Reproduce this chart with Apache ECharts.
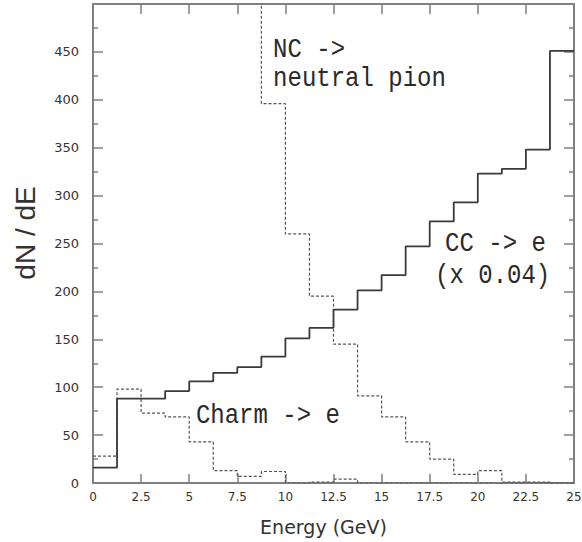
<!DOCTYPE html>
<html>
<head>
<meta charset="utf-8">
<script src="https://cdn.jsdelivr.net/npm/echarts@6/dist/echarts.min.js"></script>
<style>
html,body{margin:0;padding:0;background:#fff;}
#main{width:582px;height:542px;}
</style>
</head>
<body>
<div id="main"></div>
<script>
// Bin edges (GeV)
const binEdges = [0, 1.25, 2.5, 3.75, 5, 6.25, 7.5, 8.75, 10, 11.25, 12.5, 13.75, 15, 16.25, 17.5, 18.75, 20, 21.25, 22.5, 23.75, 25];
// CC -> e (x 0.04)
const ccValues = [16, 88, 88, 96, 106, 115, 121, 132, 151, 162, 181, 201, 217, 247, 273, 293, 323, 328, 348, 451];
// Charm -> e
const charmValues = [28, 98, 73, 69, 43, 13, 7, 12, 0, 1, 4, 0, 0, 0, 0, 0, 0, 0, 0, 0];
// NC -> neutral pion (bins below 8.75 GeV are off scale; null = not visible)
const ncValues = [null, null, null, null, null, null, 520, 396, 260, 195, 145, 91, 69, 43, 25, 9, 13, 1, 1, 0];
// Tick settings
const xTickStep = 2.5;
const yTickStep = 50;
// Annotations (data coordinates of the text anchor)
const annotations = [
  { text: 'NC ->', x: 9.36, y: 453 },
  { text: 'neutral pion', x: 9.36, y: 422 },
  { text: 'CC -> e', x: 18.3, y: 250 },
  { text: '(x 0.04)', x: 17.78, y: 217 },
  { text: 'Charm -> e', x: 5.35, y: 70 }
];

function toSteps(vals) {
  const pts = [];
  vals.forEach((v, i) => { if (v !== null) pts.push([binEdges[i], v]); });
  pts.push([binEdges[vals.length], vals[vals.length - 1]]);
  return pts;
}

const axisColor = '#808080';
const textColor = '#333';

const chart = echarts.init(document.getElementById('main'), null, { renderer: 'svg' });
const option = {
  backgroundColor: '#fff',
  animation: false,
  grid: { left: 93, right: 8, top: 4, bottom: 59, containLabel: false, outerBoundsMode: 'none' },
  xAxis: [
    {
      type: 'value', min: 0, max: 25, interval: xTickStep, position: 'bottom',
      name: 'Energy (GeV)', nameLocation: 'middle', nameGap: 34,
      nameTextStyle: { fontFamily: 'DejaVu Sans', fontSize: 19, color: textColor, padding: [0, 20, 0, 0] },
      axisLine: { show: true, onZero: false, lineStyle: { color: axisColor, width: 2 } },
      axisTick: { show: true, inside: true, length: 9, lineStyle: { color: axisColor, width: 1.5 } },
      axisLabel: { fontFamily: 'DejaVu Sans', fontSize: 12, color: textColor, margin: 8 },
      splitLine: { show: false }
    },
    {
      type: 'value', min: 0, max: 25, interval: xTickStep, position: 'top',
      axisLine: { show: true, onZero: false, lineStyle: { color: axisColor, width: 2 } },
      axisTick: { show: true, inside: true, length: 10, lineStyle: { color: axisColor, width: 1.5 } },
      axisLabel: { show: false },
      splitLine: { show: false }
    }
  ],
  yAxis: [
    {
      type: 'value', min: 0, max: 500, interval: yTickStep, position: 'left',
      axisLine: { show: true, onZero: false, lineStyle: { color: axisColor, width: 2 } },
      axisTick: { show: true, inside: true, length: 10, lineStyle: { color: axisColor, width: 1.5 } },
      minorTick: { show: true, splitNumber: 2, length: 5, lineStyle: { color: axisColor, width: 1.5 } },
      axisLabel: { fontFamily: 'DejaVu Sans', fontSize: 13, color: textColor, margin: 14, showMaxLabel: false },
      splitLine: { show: false }
    },
    {
      type: 'value', min: 0, max: 500, interval: yTickStep, position: 'right',
      axisLine: { show: true, onZero: false, lineStyle: { color: axisColor, width: 2 } },
      axisTick: { show: true, inside: true, length: 10, lineStyle: { color: axisColor, width: 1.5 } },
      minorTick: { show: true, splitNumber: 2, length: 5, lineStyle: { color: axisColor, width: 1.5 } },
      axisLabel: { show: false },
      splitLine: { show: false }
    }
  ],
  series: [
    {
      name: 'CC -> e (x 0.04)', type: 'line', step: 'end', symbol: 'none', clip: true,
      data: toSteps(ccValues),
      lineStyle: { color: '#3a3a3a', width: 1.8, type: 'solid' }, z: 3
    },
    {
      name: 'Charm -> e', type: 'line', step: 'end', symbol: 'none', clip: true,
      data: toSteps(charmValues),
      lineStyle: { color: '#555', width: 1.2, type: [3, 2] }, z: 2
    },
    {
      name: 'NC -> neutral pion', type: 'line', step: 'end', symbol: 'none', clip: true,
      data: toSteps(ncValues),
      lineStyle: { color: '#555', width: 1.2, type: [3, 2] }, z: 2
    }
  ],
  graphic: []
};
chart.setOption(option);

const g = annotations.map(a => {
  const p = chart.convertToPixel({ gridIndex: 0 }, [a.x, a.y]);
  return {
    type: 'text', x: p[0], y: p[1], scaleY: 1.18, z: 10,
    style: { text: a.text, fontFamily: 'Liberation Mono', fontSize: 24, fill: '#2a2a2a', align: 'left', verticalAlign: 'middle' }
  };
});
// y-axis title
g.push({
  type: 'text', x: 25, y: 233, rotation: Math.PI / 2, z: 10,
  style: { text: 'dN / dE', fontFamily: 'Liberation Sans', fontSize: 28, fill: textColor, align: 'center', verticalAlign: 'middle' }
});
chart.setOption({ graphic: g });
</script>
</body>
</html>
